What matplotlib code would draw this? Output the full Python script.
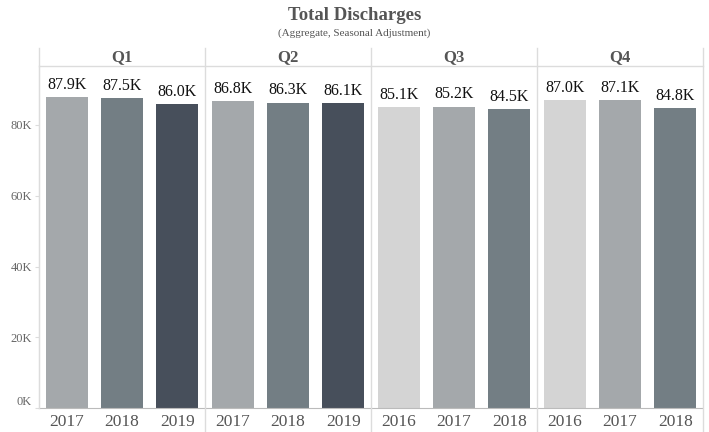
import numpy as np
import matplotlib
matplotlib.use("Agg")
import matplotlib.pyplot as plt

# data
quarters = ['Q1', 'Q2', 'Q3', 'Q4']
years = [['2017', '2018', '2019'],
         ['2017', '2018', '2019'],
         ['2016', '2017', '2018'],
         ['2016', '2017', '2018']]
values = [[87.9, 87.5, 86.0],
          [86.8, 86.3, 86.1],
          [85.1, 85.2, 84.5],
          [87.0, 87.1, 84.8]]
year_colors = {'2016': '#d4d4d4', '2017': '#a4a8ab', '2018': '#737e84', '2019': '#474f5b'}
yticks = [0, 20, 40, 60, 80]

plt.rcParams['font.family'] = ['Liberation Serif', 'DejaVu Serif']

W, H = 709, 432
fig = plt.figure(figsize=(W / 100, H / 100), dpi=100)

left_px = 39
panel_w = 166
top_px = 66
base_px = 408
ymax = (base_px - top_px) / 3.5375
grid_c = '#dcdcdc'
text_c = '#555555'

axes = []
for i, q in enumerate(quarters):
    ax = fig.add_axes([(left_px + i * panel_w) / W, (H - base_px) / H,
                       panel_w / W, (base_px - top_px) / H])
    x = np.arange(3)
    ax.bar(x, values[i], width=0.76, color=[year_colors[y] for y in years[i]])
    for xx, v in zip(x, values[i]):
        ax.text(xx, v + 1.2, f'{v:.1f}K', ha='center', va='bottom', fontsize=11.5, color='#111111')
    ax.set_xlim(-0.5, 2.5)
    ax.set_ylim(0, ymax)
    ax.set_xticks(x)
    ax.set_xticklabels(years[i], fontsize=12.5, color=text_c)
    ax.tick_params(axis='x', length=0, pad=4)
    for s in ['top', 'right']:
        ax.spines[s].set_visible(False)
    ax.spines['bottom'].set_color('#bbbbbb')
    ax.spines['bottom'].set_linestyle((0, (1, 1)))
    if i == 0:
        ax.set_yticks(yticks)
        ax.set_yticklabels([f'{t}K' for t in yticks], fontsize=9, color='#666666')
        ax.tick_params(axis='y', length=3, color=grid_c, pad=2)
        ax.get_yticklabels()[0].set_va('bottom')
        ax.spines['left'].set_color(grid_c)
    else:
        ax.set_yticks([])
        ax.spines['left'].set_visible(False)
    axes.append(ax)

# header row and separators
hdr_top = 48
for i in range(5):
    xp = (left_px + i * panel_w) / W
    fig.add_artist(plt.Line2D([xp, xp], [0, (H - hdr_top) / H] if 0 < i < 4 else
                              [(H - base_px) / H if i == 0 else 0, (H - hdr_top) / H],
                              color=grid_c, lw=1))
fig.add_artist(plt.Line2D([left_px / W, (left_px + 4 * panel_w) / W],
                          [(H - top_px) / H] * 2, color=grid_c, lw=1))
for i, q in enumerate(quarters):
    fig.text((left_px + (i + 0.5) * panel_w) / W, (H - 57) / H, q, ha='center', va='center',
             fontsize=12, fontweight='bold', color=text_c)

fig.text(0.5, (H - 16) / H, 'Total Discharges', ha='center', va='center',
         fontsize=13.5, fontweight='bold', color=text_c)
fig.text(0.5, (H - 33) / H, '(Aggregate, Seasonal Adjustment)', ha='center', va='center',
         fontsize=8, color=text_c)

fig.savefig('out.png', dpi=100)
